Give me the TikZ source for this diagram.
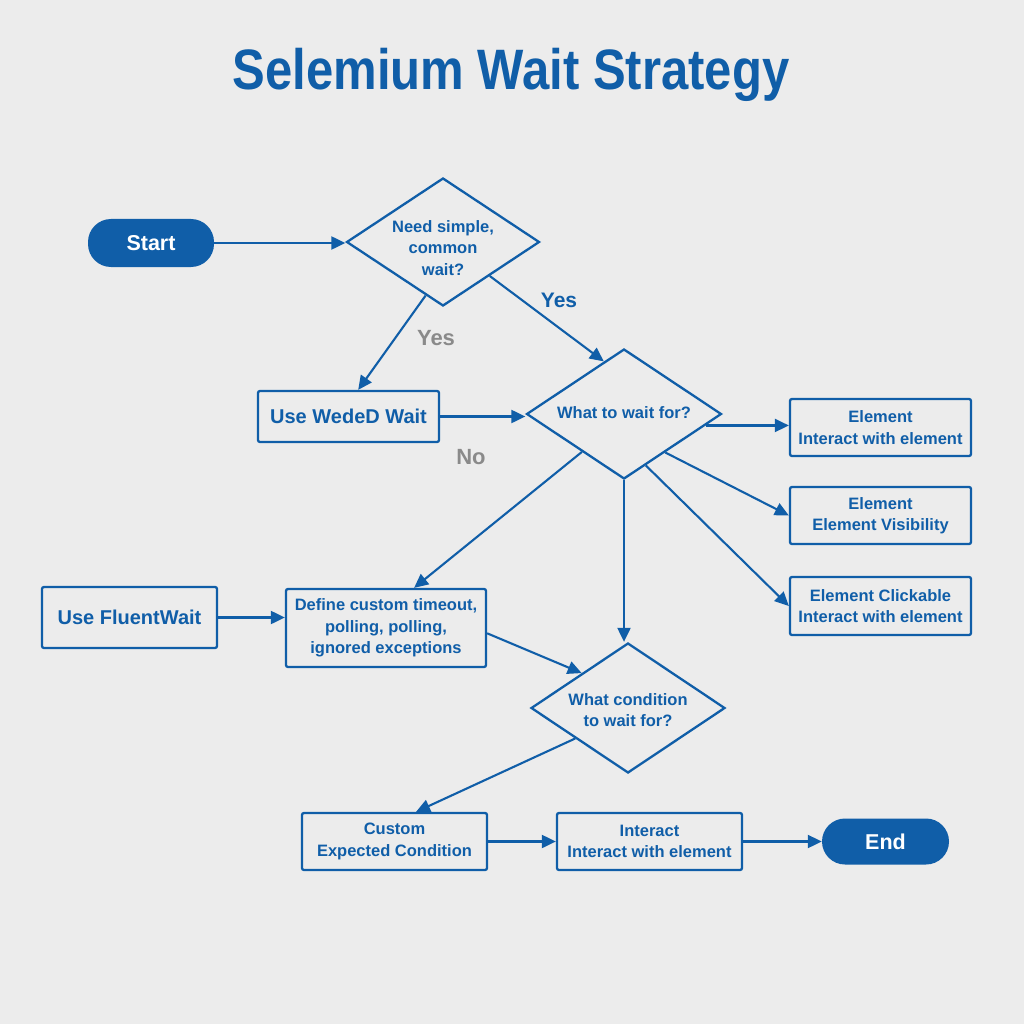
\documentclass[tikz,border=0pt]{standalone}
\usepackage{fontspec}
\setmainfont{Liberation Sans}
\newfontfamily\titlefont{Liberation Sans}[FakeStretch=0.86]
\usetikzlibrary{shapes.geometric,arrows.meta,calc}
\definecolor{bl}{HTML}{105EA8}
\definecolor{bg}{HTML}{ECECEC}
\definecolor{gr}{HTML}{8A8A8A}
\begin{document}
\begin{tikzpicture}[x=1pt,y=-1pt,
 box/.style={draw=bl, line width=2.3pt, rounded corners=2pt, text=bl, font=\bfseries\fontsize{16.5}{21.5}\selectfont, align=center, inner sep=0pt},
 bigbox/.style={box, font=\bfseries\fontsize{20}{24}\selectfont},
 pill/.style={fill=bl, text=white, rounded corners=23pt, font=\bfseries\fontsize{21.5}{24}\selectfont, inner sep=0pt},
 diam/.style={diamond, draw=bl, line width=2.3pt, inner sep=0pt},
 dtext/.style={text=bl, font=\bfseries\fontsize{16.5}{21.5}\selectfont, align=center, inner sep=0pt},
 arr/.style={draw=bl, line width=2.1pt, -{Triangle[length=14pt,width=13pt]}},
 lbl/.style={font=\bfseries\fontsize{22}{24}\selectfont, text=gr},
]
\fill[bg] (0,0) rectangle (1024,1024);
\useasboundingbox (0,0) rectangle (1024,1024);

\node[text=bl, font=\titlefont\bfseries\fontsize{57}{60}\selectfont, anchor=base] (title) at (511,90) {Selemium Wait Strategy};

\node[pill, minimum width=126pt, minimum height=48pt] (start) at (151,243) {Start};
\node[diam, minimum width=193pt, minimum height=128pt] (d1) at (443,242) {};
\node[dtext] (d1t) at (443,248) {Need simple,\\common\\wait?};

\node[bigbox, minimum width=181pt, minimum height=51pt] (wbox) at (348.5,416.5) {Use WedeD Wait};
\node[diam, minimum width=195pt, minimum height=130pt] (d2) at (624,414) {};
\node[dtext] (d2t) at (624,413) {What to wait for?};

\node[box, minimum width=181pt, minimum height=57pt] (e1) at (880.5,427.5) {Element\\Interact with element};
\node[box, minimum width=181pt, minimum height=57pt] (e2) at (880.5,515.5) {Element\\Element Visibility};
\node[box, minimum width=181pt, minimum height=58pt] (e3) at (880.5,606) {Element Clickable\\Interact with element};

\node[bigbox, minimum width=175pt, minimum height=61pt] (fw) at (129.5,617.5) {Use FluentWait};
\node[box, minimum width=200pt, minimum height=78pt] (def) at (386,628) {Define custom timeout,\\polling, polling,\\ignored exceptions};

\node[diam, minimum width=194pt, minimum height=130pt] (d3) at (628,708) {};
\node[dtext] (d3t) at (628,710) {What condition\\to wait for?};

\node[box, minimum width=185pt, minimum height=57pt] (cust) at (394.5,841.5) {Custom\\Expected Condition};
\node[box, minimum width=185pt, minimum height=57pt] (inter) at (649.5,841.5) {Interact\\Interact with element};
\node[pill, minimum width=127pt, minimum height=46pt] (end) at (885.5,841.5) {End};

\node[lbl] (yes1) at (436,338) {Yes};
\node[lbl, text=bl, font=\bfseries\fontsize{21}{24}\selectfont] (yes2) at (559,300) {Yes};
\node[lbl] (no) at (471,457) {No};

\draw[arr] (start.east) -- (start.east -| d1.west);
\draw[arr] (d1.252) -- (wbox.70);
\draw[arr] (d1.-36) -- (d2.111);
\draw[arr] (wbox.east) -- (wbox.east -| d2.west);
\draw[arr] (d2.-8) -- (d2.-8 -| e1.west);
\draw[arr] (d2.-43) -- (e2.west);
\draw[arr] (d2.-67.5) -- (e3.west);
\draw[arr] (d2.222) -- (def.55);
\draw[arr] (d2.south) -- (d2.south |- d3.north);
\draw[arr] (fw.east) -- (fw.east -| def.west);
\draw[arr] (def.-3) -- (d3.143);
\draw[arr] (d3.210) -- (cust.54);
\draw[arr] (cust.east) -- (inter.west);
\draw[arr] (inter.east) -- (end.west);
\end{tikzpicture}
\end{document}
